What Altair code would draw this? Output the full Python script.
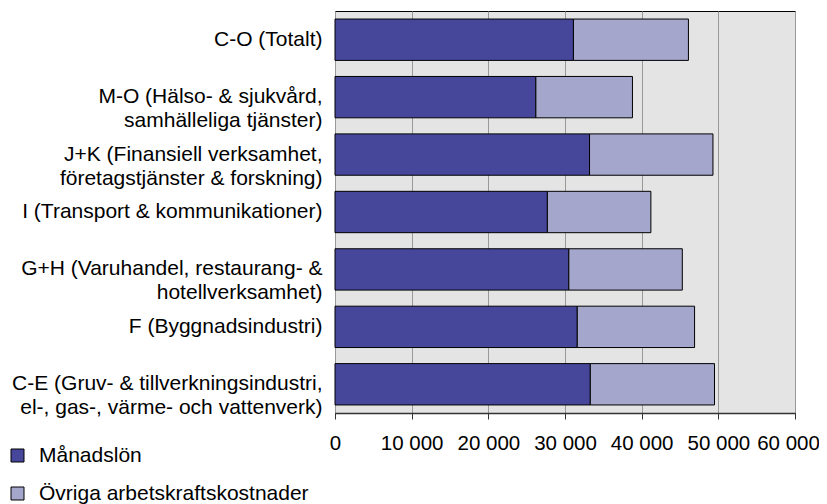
import altair as alt
import pandas as pd

categories = [
    "C-O (Totalt)",
    "M-O (Hälso- & sjukvård,|samhälleliga tjänster)",
    "J+K (Finansiell verksamhet,|företagstjänster & forskning)",
    "I (Transport & kommunikationer)",
    "G+H (Varuhandel, restaurang- &|hotellverksamhet)",
    "F (Byggnadsindustri)",
    "C-E (Gruv- & tillverkningsindustri,|el-, gas-, värme- och vattenverk)",
]
manadslon = [31100, 26200, 33200, 27700, 30500, 31600, 33300]
ovriga = [15000, 12600, 16100, 13500, 14800, 15300, 16200]
series = ["Månadslön", "Övriga arbetskraftskostnader"]
colors = ["#46479A", "#A5A6CC"]
ticks = [0, 10000, 20000, 30000, 40000, 50000, 60000]

rows = []
for c, m, o in zip(categories, manadslon, ovriga):
    rows.append({"kat": c, "serie": series[0], "varde": m, "ord": 0})
    rows.append({"kat": c, "serie": series[1], "varde": o, "ord": 1})
df = pd.DataFrame(rows)

FONT = "Liberation Sans"
FS = 21

chart = alt.Chart(df).mark_bar(stroke="black", strokeWidth=1).encode(
    y=alt.Y("kat:N", sort=categories, title=None,
            scale=alt.Scale(paddingInner=0.28, paddingOuter=0.14),
            axis=alt.Axis(ticks=False, domain=False, labelPadding=13,
                          labelExpr="split(datum.label, '|')",
                          labelLineHeight=24, labelLimit=400,
                          labelFontSize=FS, labelColor="black", labelFont=FONT)),
    x=alt.X("varde:Q", stack="zero", title=None,
            scale=alt.Scale(domain=[0, 60000], nice=False),
            axis=alt.Axis(values=ticks, labelExpr="replace(format(datum.value, ','), ',', ' ')",
                          tickSize=6, tickColor="#333", domainColor="#333", domainWidth=1.5,
                          labelPadding=14, labelFontSize=20.5, labelColor="black", labelFont=FONT,
                          labelOffset=alt.condition("datum.value == 60000", alt.value(-7), alt.value(0)),
                          grid=True, gridColor="#999999", gridWidth=1, labelFlush=False)),
    color=alt.Color("serie:N", scale=alt.Scale(domain=series, range=colors), title=None,
                    legend=alt.Legend(orient="none", legendX=-328, legendY=434,
                                      symbolType="square", symbolSize=169,
                                      symbolStrokeColor="black", symbolStrokeWidth=1,
                                      labelFontSize=FS, labelFont=FONT, labelColor="black",
                                      rowPadding=16, padding=0, labelOffset=11,
                                      labelLimit=500)),
    order=alt.Order("ord:Q"),
).properties(
    width=460, height=402,
    autosize=alt.AutoSizeParams(type="none"),
    padding={"left": 327, "top": 3, "right": 24, "bottom": 93},
).configure_view(
    fill="#E4E4E4", stroke="black", strokeWidth=1
)

chart.save("out.html", embed_options={"renderer": "svg", "actions": False})
